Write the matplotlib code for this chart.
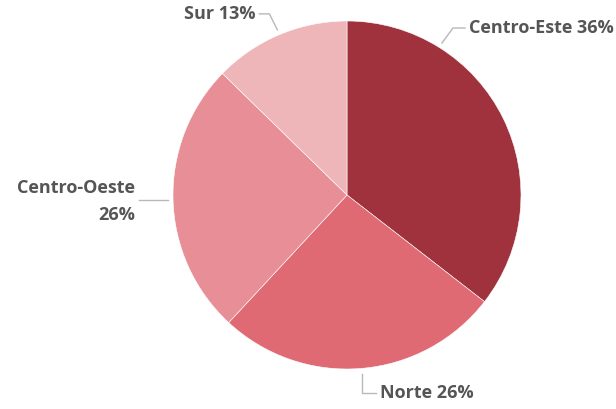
import numpy as np
import matplotlib.pyplot as plt

# ----- Data -----
regions = ["Centro-Este", "Norte", "Centro-Oeste", "Sur"]
shares = [35.5, 26.4, 25.4, 12.7]
pct_labels = ["36%", "26%", "26%", "13%"]
colors = ["#A0323D", "#E06A73", "#E78E96", "#EFB6BA"]
# ----------------

W, H = 616, 409
CX, CY, R = 347, 195, 174  # pie centre / radius in pixels


def px(x, y):
    # pixel -> data coords (pie radius = 1)
    return (x - CX) / R, (CY - y) / R


fig = plt.figure(figsize=(W / 100, H / 100), dpi=100)
ax = fig.add_axes([0, 0, 1, 1])

wedges, _ = ax.pie(shares, colors=colors, startangle=90, counterclock=False,
                   radius=1.0, wedgeprops=dict(edgecolor="white", linewidth=0.4))

ax.set_xlim(-CX / R, (W - CX) / R)
ax.set_ylim(-(H - CY) / R, CY / R)
ax.set_aspect("equal")
ax.axis("off")

txt_kw = dict(fontsize=13, color="#555555", fontweight="bold",
              family=["Open Sans", "DejaVu Sans"])
line_kw = dict(color="#B8B8B8", lw=1)

# leader layout: (anchor angle override, elbow offset, end offset, text align)
layout = {
    "Centro-Este": dict(angle=58, elbow=(11, -15), end=(23, -15), ha="left", multiline=False),
    "Norte": dict(angle=None, elbow=(0, 19), end=(14, 19), ha="left", multiline=False),
    "Centro-Oeste": dict(angle=None, elbow=(-15, 0), end=(-29, 0), ha="right", multiline=True),
    "Sur": dict(angle=None, elbow=(-8, -16), end=(-18, -16), ha="right", multiline=False),
}

for w, name, pct in zip(wedges, regions, pct_labels):
    lay = layout[name]
    ang = lay["angle"]
    if ang is None:
        ang = (w.theta1 + w.theta2) / 2
    a = np.deg2rad(ang)
    ax0 = CX + 1.03 * R * np.cos(a)
    ay0 = CY - 1.03 * R * np.sin(a)
    ex, ey = ax0 + lay["elbow"][0], ay0 + lay["elbow"][1]
    tx, ty = ax0 + lay["end"][0], ay0 + lay["end"][1]
    pts = [px(ax0, ay0), px(ex, ey), px(tx, ty)]
    ax.plot([p[0] for p in pts], [p[1] for p in pts], **line_kw)
    gap = 4 if lay["ha"] == "left" else -4
    label = f"{name}\n{pct}" if lay["multiline"] else f"{name} {pct}"
    lx, ly = px(tx + gap, ty + (2 if lay["multiline"] else 0))
    ax.text(lx, ly, label, ha=lay["ha"], va="center", linespacing=1.6,
            multialignment="right", **txt_kw)

fig.savefig("out.png", dpi=100)
